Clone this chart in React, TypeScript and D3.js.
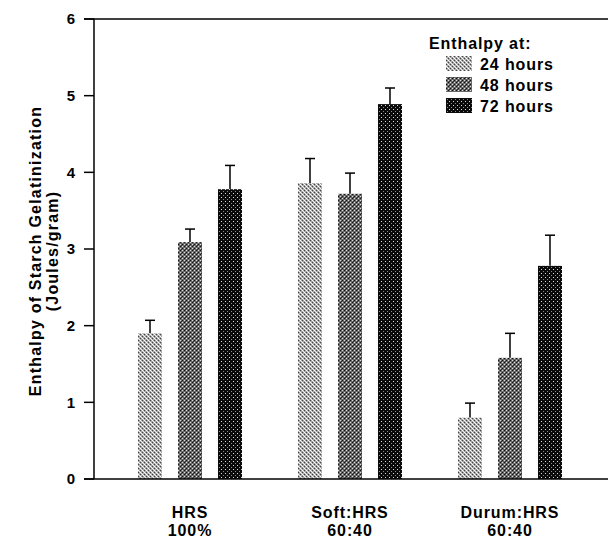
import React, { useRef, useEffect } from 'react';
import * as d3 from 'd3';

const GROUPS = ['HRS|100%', 'Soft:HRS|60:40', 'Durum:HRS|60:40'];
const SERIES = ['24 hours', '48 hours', '72 hours'];
const MEANS = [
  [1.9, 3.09, 3.78],
  [3.86, 3.72, 4.89],
  [0.8, 1.58, 2.78],
];
const ERRORS = [
  [0.17, 0.17, 0.31],
  [0.32, 0.27, 0.21],
  [0.19, 0.32, 0.4],
];
const Y_TICKS = [0, 1, 2, 3, 4, 5, 6];

const W = 608;
const H = 539;
const FONT = 'Liberation Sans, Arial, Helvetica, sans-serif';

export default function App() {
  const svgRef = useRef<SVGSVGElement>(null);

  useEffect(() => {
    if (!svgRef.current) return;
    const svg = d3.select(svgRef.current);
    svg.selectAll('*').remove();

    const left = 94;
    const top = 19;
    const bottom = 479;

    const y = d3.scaleLinear().domain([0, 6]).range([bottom, top]);
    const x0 = d3.scaleBand<string>()
      .domain(GROUPS)
      .range([110, 590])
      .paddingInner(0)
      .paddingOuter(0);
    const x1 = d3.scaleBand<string>()
      .domain(SERIES)
      .range([0, 104])
      .paddingInner(0.4)
      .paddingOuter(0);

    // patterns for the three series
    const defs = svg.append('defs');
    const dot = (p: any, x: number, yy: number, c: string) =>
      p.append('rect').attr('x', x).attr('y', yy).attr('width', 1).attr('height', 1).attr('fill', c);

    const p1 = defs.append('pattern').attr('id', 'p24').attr('width', 4).attr('height', 4)
      .attr('patternUnits', 'userSpaceOnUse');
    p1.append('rect').attr('width', 4).attr('height', 4).attr('fill', '#a8a8a8');
    dot(p1, 0, 0, '#fff'); dot(p1, 2, 2, '#fff');
    dot(p1, 1, 1, '#eee'); dot(p1, 3, 3, '#eee');
    dot(p1, 2, 0, '#444'); dot(p1, 0, 2, '#444');

    const p2 = defs.append('pattern').attr('id', 'p48').attr('width', 4).attr('height', 4)
      .attr('patternUnits', 'userSpaceOnUse');
    p2.append('rect').attr('width', 4).attr('height', 4).attr('fill', '#6a6a6a');
    dot(p2, 0, 0, '#ddd'); dot(p2, 2, 2, '#ddd');
    dot(p2, 2, 0, '#111'); dot(p2, 0, 2, '#111');
    dot(p2, 1, 1, '#333');

    const p3 = defs.append('pattern').attr('id', 'p72').attr('width', 4).attr('height', 4)
      .attr('patternUnits', 'userSpaceOnUse');
    p3.append('rect').attr('width', 4).attr('height', 4).attr('fill', '#0a0a0a');
    dot(p3, 1, 1, '#ddd');
    dot(p3, 3, 3, '#888');
    const fills = ['url(#p24)', 'url(#p48)', 'url(#p72)'];

    svg.append('rect').attr('width', W).attr('height', H).attr('fill', '#fff');

    // bars + error bars
    GROUPS.forEach((g, gi) => {
      const gx = (x0(g) ?? 0) + (x0.bandwidth() - 104) / 2;
      SERIES.forEach((s, si) => {
        const bx = gx + (x1(s) ?? 0);
        const bw = x1.bandwidth();
        const v = MEANS[gi][si];
        const e = ERRORS[gi][si];
        const cx = bx + bw / 2;
        svg.append('line')
          .attr('x1', cx).attr('x2', cx)
          .attr('y1', y(v)).attr('y2', y(v + e))
          .attr('stroke', '#000').attr('stroke-width', 1.5);
        svg.append('line')
          .attr('x1', cx - 5).attr('x2', cx + 5)
          .attr('y1', y(v + e)).attr('y2', y(v + e))
          .attr('stroke', '#000').attr('stroke-width', 1.5);
        svg.append('rect')
          .attr('x', bx).attr('y', y(v))
          .attr('width', bw).attr('height', y(0) - y(v))
          .attr('fill', fills[si]);
      });
    });

    // axes
    svg.append('line').attr('x1', left).attr('x2', left).attr('y1', top).attr('y2', bottom)
      .attr('stroke', '#000').attr('stroke-width', 1.5);
    svg.append('line').attr('x1', 84).attr('x2', W).attr('y1', bottom).attr('y2', bottom)
      .attr('stroke', '#000').attr('stroke-width', 1.5);
    svg.append('line').attr('x1', 84).attr('x2', W).attr('y1', top).attr('y2', top)
      .attr('stroke', '#000').attr('stroke-width', 1.5);

    Y_TICKS.forEach((t) => {
      svg.append('line').attr('x1', 84).attr('x2', left).attr('y1', y(t)).attr('y2', y(t))
        .attr('stroke', '#000').attr('stroke-width', 1.5);
      svg.append('text')
        .attr('x', 75).attr('y', y(t)).attr('dy', '0.35em')
        .attr('text-anchor', 'end')
        .attr('font-family', FONT).attr('font-weight', 'bold').attr('font-size', 15)
        .text(t);
    });

    const bold = (sel: any, size = 16, ls = 0.9) => sel
      .attr('font-family', FONT).attr('font-weight', 'bold').attr('font-size', size)
      .attr('letter-spacing', ls).attr('fill', '#000');

    // group labels
    GROUPS.forEach((g) => {
      const cx = (x0(g) ?? 0) + x0.bandwidth() / 2;
      const [l1, l2] = g.split('|');
      bold(svg.append('text').attr('x', cx).attr('y', 518).attr('text-anchor', 'middle')).text(l1);
      bold(svg.append('text').attr('x', cx).attr('y', 536).attr('text-anchor', 'middle')).text(l2);
    });

    // y title
    const yt = bold(svg.append('text')
      .attr('transform', `translate(41, ${(top + bottom) / 2 + 2}) rotate(-90)`)
      .attr('text-anchor', 'middle'), 16, 1.2);
    yt.append('tspan').attr('x', 0).attr('dy', 0).text('Enthalpy of Starch Gelatinization');
    yt.append('tspan').attr('x', 0).attr('dy', 17).text('(Joules/gram)');

    // legend
    bold(svg.append('text').attr('x', 429).attr('y', 49)).text('Enthalpy at:');
    SERIES.forEach((s, i) => {
      const ly = 56 + i * 21;
      svg.append('rect').attr('x', 446).attr('y', ly).attr('width', 26).attr('height', 15)
        .attr('fill', fills[i]);
      bold(svg.append('text').attr('x', 480).attr('y', ly + 8).attr('dy', '0.35em')).text(s);
    });
  }, []);

  return (
    <svg
      ref={svgRef}
      width={W}
      height={H}
      style={{ position: 'absolute', left: 0, top: 0, display: 'block' }}
    />
  );
}
